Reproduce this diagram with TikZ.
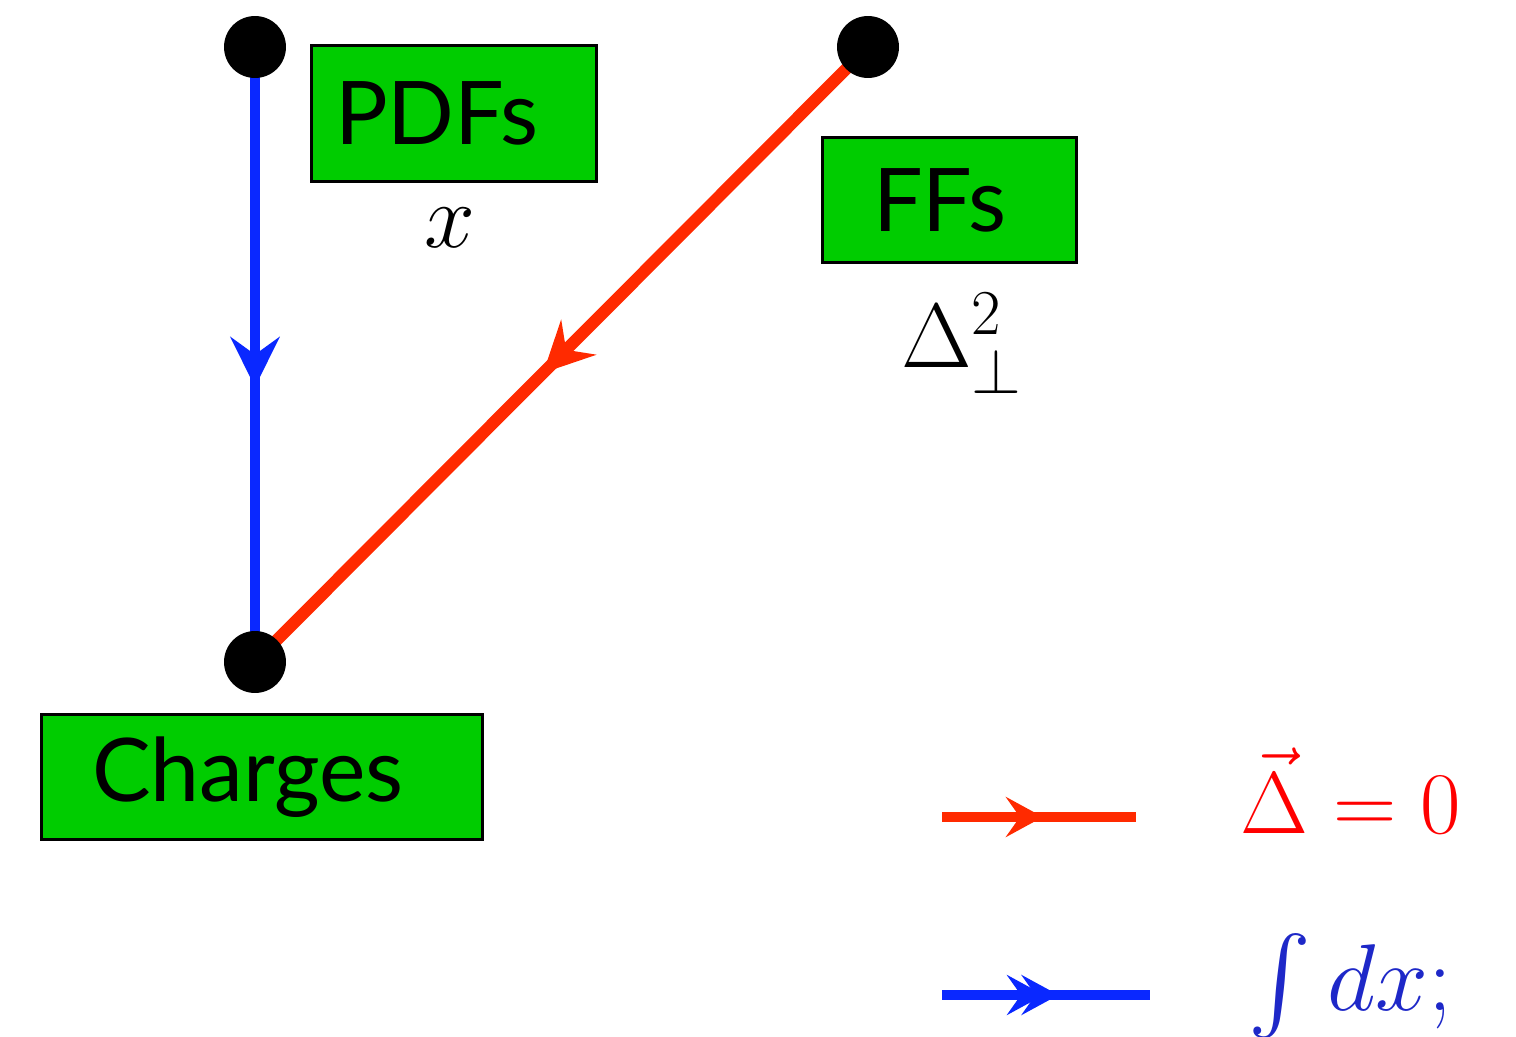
\RequirePackage{fix-cm}
\documentclass[tikz,border=0pt]{standalone}
\usepackage{amsmath}
\DeclareFontShape{OMX}{cmex}{m}{n}{<->cmex10}{}
\usepackage{fontspec}
\setsansfont{Lato}
\usetikzlibrary{arrows.meta,decorations.markings,backgrounds}
\definecolor{boxgreen}{RGB}{0,204,0}
\definecolor{linered}{RGB}{255,42,0}
\definecolor{lineblue}{RGB}{10,40,255}
\definecolor{textblue}{RGB}{30,40,200}
\tikzset{
  gbox/.style={draw=black, line width=0.06cm, fill=boxgreen, align=left,
    inner ysep=0pt, font=\sffamily\fontsize{50}{60}\selectfont},
  dot/.style={circle, fill=black, minimum size=1.24cm, inner sep=0pt},
  bigarrow/.tip={Stealth[length=1cm,width=0.98cm,inset=0.35cm]},
  smallarrow/.tip={Stealth[length=0.74cm,width=0.8cm,inset=0.28cm]},
  blueline/.style={draw=lineblue, line width=0.2cm},
  redline/.style={draw=linered, line width=0.24cm},
}
\begin{document}
\begin{tikzpicture}[x=0.02cm,y=-0.02cm]
\useasboundingbox (0,0) rectangle (1516,1037);
\node[dot] (A) at (255,47) {};
\node[dot] (B) at (868,47) {};
\node[dot] (C) at (255,662) {};
\begin{scope}[on background layer]
\draw[blueline, postaction={decorate}, decoration={markings,
  mark=at position 0.553 with {\arrow[lineblue]{bigarrow}}}] (A.center) -- (C.center);
\draw[redline, postaction={decorate}, decoration={markings,
  mark=at position 0.53 with {\arrow[linered]{bigarrow}}}] (B.center) -- (C.center);
\end{scope}
\node[gbox, minimum height=2.74cm, text width=4.76cm, inner xsep=0.48cm] (pdfs) at (454,113.5) {PDFs};
\node[gbox, minimum height=2.52cm, text width=3.06cm, inner xsep=1.02cm] (ffs) at (949.5,200) {FFs};
\node[gbox, minimum height=2.52cm, text width=6.8cm, inner xsep=1.02cm] (charges) at (262,777) {Charges};
\node[font=\fontsize{52}{60}\selectfont] (xlab) at (450,228) {$x$};
\node[font=\fontsize{52}{60}\selectfont, anchor=base, inner sep=0pt] (dlab) at (962,368) {$\Delta_\perp^2$};
\coordinate (r1) at (942,817);
\coordinate (r2) at (1136,817);
\coordinate (b1) at (942,995);
\coordinate (b2) at (1150,995);
\draw[draw=linered, line width=0.2cm, postaction={decorate}, decoration={markings,
  mark=at position 0.52 with {\arrow[linered]{smallarrow}}}] (r1) -- (r2);
\draw[draw=lineblue, line width=0.2cm, postaction={decorate}, decoration={markings,
  mark=at position 0.49 with {\arrow[lineblue]{smallarrow}},
  mark=at position 0.56 with {\arrow[lineblue]{smallarrow}}}] (b1) -- (b2);
\node[font=\fontsize{50}{60}\selectfont, text=red, anchor=base, inner sep=0pt] (rlab) at (1351,833) {$\vec\Delta = 0$};
\node[font=\fontsize{54}{64}\selectfont, text=textblue, anchor=base, inner sep=0pt] (blab) at (1350,1010) {$\int dx;$};
\end{tikzpicture}
\end{document}
